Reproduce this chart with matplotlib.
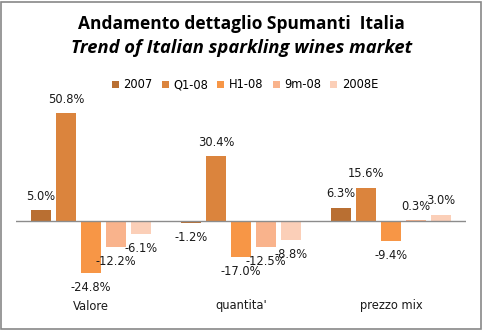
import numpy as np
import matplotlib.pyplot as plt
from matplotlib.patches import Rectangle

categories = ["Valore", "quantita'", "prezzo mix"]
series = ["2007", "Q1-08", "H1-08", "9m-08", "2008E"]
values = [
    [5.0, -1.2, 6.3],       # 2007
    [50.8, 30.4, 15.6],     # Q1-08
    [-24.8, -17.0, -9.4],   # H1-08
    [-12.2, -12.5, 0.3],    # 9m-08
    [-6.1, -8.8, 3.0],      # 2008E
]
colors = ["#B96F32", "#DB843D", "#F79646", "#F9B38C", "#FBCFB8"]

fig = plt.figure(figsize=(4.83, 3.30), dpi=100)
ax = fig.add_axes([16 / 483, 1 - 295 / 330, 450 / 483, (295 - 93.8) / 330])

x = np.arange(len(categories))
w = 20 / 150
step = 25 / 150
for j, (name, vals, c) in enumerate(zip(series, values, colors)):
    xs = x + (j - 2) * step
    ax.bar(xs, vals, width=w, color=c, label=name, zorder=2)
    for xi, v in zip(xs, vals):
        off = 10 if v >= 0 else -10.5
        ax.annotate(f"{v:.1f}%", (xi, v), xytext=(0, off), textcoords="offset points",
                    ha="center", va="center", fontsize=8.3, family="DejaVu Sans",
                    color="#1a1a1a")

ax.axhline(0, color="#8c8c8c", lw=1, zorder=3)
ax.set_xlim(-0.5, 2.5)
ax.set_ylim(-35, 60)
ax.axis("off")

for xi, cat in zip(x, categories):
    fig.text((16 + 150 * xi + 75) / 483, 1 - 306 / 330, cat, ha="center", va="center",
             fontsize=8.3, family="DejaVu Sans", color="#1a1a1a")

fig.text(0.5, 1 - 24 / 330, "Andamento dettaglio Spumanti  Italia", ha="center", va="center",
         fontsize=12.5, weight="bold", family="Open Sans")
fig.text(0.5, 1 - 48 / 330, "Trend of Italian sparkling wines market", ha="center", va="center",
         fontsize=13.2, weight="bold", style="italic", family="Open Sans")

fig.legend(loc="center", bbox_to_anchor=(245 / 483, 1 - 85 / 330), ncol=5, frameon=False,
           prop={"family": "DejaVu Sans", "size": 8.3}, handlelength=0.6, handleheight=0.6,
           handletextpad=0.4, columnspacing=0.8, borderpad=0)

fig.patches.append(Rectangle((1 / 483, 1 / 330), 480 / 483, 327 / 330, transform=fig.transFigure,
                             fill=False, edgecolor="#888888", lw=1.2))

fig.savefig("out.png", dpi=100)
